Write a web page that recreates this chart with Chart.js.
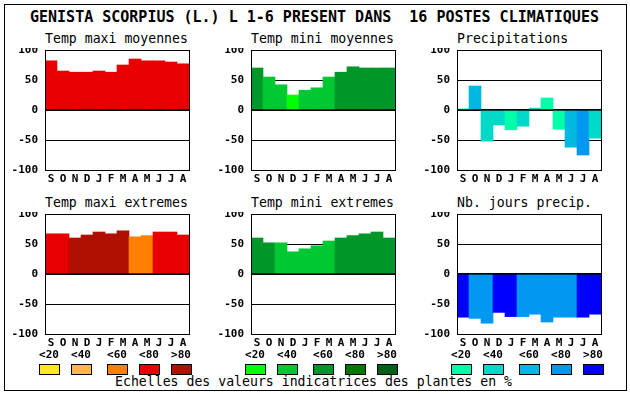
<!DOCTYPE html>
<html>
<head>
<meta charset="utf-8">
<script src="https://cdn.jsdelivr.net/npm/chart.js@4.4.1/dist/chart.umd.min.js"></script>
<style>
  html, body { margin: 0; padding: 0; background: #fff; }
  body { width: 630px; height: 394px; position: relative; overflow: hidden; font-family: "DejaVu Sans Mono", monospace; color: #000; }
  .frame { position: absolute; left: 4px; top: 4px; width: 621px; height: 385px; border: 1px solid #000; }
  .txt { position: absolute; white-space: pre; }
  canvas { position: absolute; }
  .box { position: absolute; width: 19px; height: 9px; border: 1px solid #000; }
</style>
</head>
<body>
<div class="frame"></div>
<script>
// ---------- DATA ----------
const months = ['S','O','N','D','J','F','M','A','M','J','J','A'];
const yTicks = [-100, -50, 0, 50, 100];
const classLabels = ['<20','<40','<60','<80','>80'];

const warmPalette  = ['#ffe820','#ffb848','#ff8000','#e80000','#b01000'];
const greenPalette = ['#00ff00','#00c832','#009628','#007800','#006018'];
const bluePalette  = ['#00ffa8','#00d8c8','#00b8e0','#0098f0','#0000ff'];

const tempMaxiMoy     = [82, 65, 63, 63, 65, 63, 75, 85, 82, 82, 80, 77];
const tempMaxiMoyCls  = [3, 3, 3, 3, 3, 3, 3, 3, 3, 3, 3, 3];

const tempMiniMoy     = [70, 55, 42, 25, 33, 37, 55, 63, 72, 70, 70, 70];
const tempMiniMoyCls  = [2, 1, 1, 0, 1, 1, 1, 2, 2, 2, 2, 2];

const precip          = [2, 40, -52, -25, -33, -27, 3, 20, -32, -62, -75, -47];
const precipCls       = [0, 2, 1, 1, 0, 1, 1, 0, 0, 2, 3, 1];

const tempMaxiExt     = [67, 67, 60, 65, 70, 67, 72, 62, 64, 70, 70, 65];
const tempMaxiExtCls  = [3, 3, 4, 4, 4, 4, 4, 2, 2, 3, 3, 3];

const tempMiniExt     = [60, 52, 52, 37, 42, 47, 55, 60, 64, 67, 70, 60];
const tempMiniExtCls  = [2, 2, 1, 1, 1, 1, 1, 2, 2, 2, 2, 2];

const joursPrecip     = [-72, -74, -82, -64, -71, -71, -67, -80, -72, -72, -72, -67];
const joursPrecipCls  = [4, 3, 3, 4, 4, 3, 3, 3, 3, 3, 4, 4];

const mainTitle = 'GENISTA SCORPIUS (L.) L 1-6 PRESENT DANS  16 POSTES CLIMATIQUES';
const footer = 'Echelles des valeurs indicatrices des plantes en %';

// ---------- LAYOUT ----------
const MONO = '"DejaVu Sans Mono", monospace';
const ASC = 0.846; // baseline offset factor for line-height = font-size

function addText(str, x, baseline, size, weight, align) {
  const d = document.createElement('div');
  d.className = 'txt';
  d.textContent = str;
  d.style.fontSize = size + 'px';
  d.style.lineHeight = size + 'px';
  d.style.fontWeight = weight || 'normal';
  d.style.top = (baseline - ASC * size) + 'px';
  if (align === 'center') {
    d.style.left = (x - 200) + 'px';
    d.style.width = '400px';
    d.style.textAlign = 'center';
  } else {
    d.style.left = x + 'px';
  }
  document.body.appendChild(d);
}

addText(mainTitle, 30, 23, 15, 'bold');
addText(footer, 115, 386.5, 13.2, 'normal');

const panels = [
  { title: 'Temp maxi moyennes', data: tempMaxiMoy, cls: tempMaxiMoyCls, pal: warmPalette,  left: 45,  top: 50 },
  { title: 'Temp mini moyennes', data: tempMiniMoy, cls: tempMiniMoyCls, pal: greenPalette, left: 251, top: 50 },
  { title: 'Precipitations',     data: precip,      cls: precipCls,      pal: bluePalette,  left: 457, top: 50 },
  { title: 'Temp maxi extremes', data: tempMaxiExt, cls: tempMaxiExtCls, pal: warmPalette,  left: 45,  top: 214 },
  { title: 'Temp mini extremes', data: tempMiniExt, cls: tempMiniExtCls, pal: greenPalette, left: 251, top: 214 },
  { title: 'Nb. jours precip.',  data: joursPrecip, cls: joursPrecipCls, pal: bluePalette,  left: 457, top: 214 }
];

const PLOT_W = 144, PLOT_H = 120, YAX_W = 45, XAX_H = 20, PAD = 2;

const framePlugin = {
  id: 'plotFrame',
  afterDraw(chart) {
    const a = chart.chartArea;
    const c = chart.ctx;
    c.save();
    c.strokeStyle = '#000';
    c.lineWidth = 1;
    c.strokeRect(a.left + 0.5, a.top + 0.5, a.right - a.left, a.bottom - a.top);
    c.restore();
  }
};

Chart.defaults.font.family = MONO;
Chart.defaults.font.size = 11;
Chart.defaults.font.weight = 'bold';
Chart.defaults.color = '#000';

function noPad(s) {
  s.paddingTop = 0; s.paddingBottom = 0; s.paddingLeft = 0; s.paddingRight = 0;
}

panels.forEach(p => {
  addText(p.title, p.left, p.top - 7, 13.2, 'normal');
  const cv = document.createElement('canvas');
  const w = YAX_W + PLOT_W + PAD, h = PAD + PLOT_H + XAX_H;
  cv.width = w; cv.height = h;
  cv.style.width = w + 'px'; cv.style.height = h + 'px';
  cv.style.left = (p.left - YAX_W) + 'px';
  cv.style.top = (p.top - PAD) + 'px';
  document.body.appendChild(cv);
  new Chart(cv, {
    type: 'bar',
    data: {
      labels: months,
      datasets: [{
        data: p.data,
        backgroundColor: p.cls.map(k => p.pal[k]),
        borderWidth: 0,
        categoryPercentage: 1,
        barPercentage: 1
      }]
    },
    options: {
      responsive: false,
      animation: false,
      devicePixelRatio: 1,
      layout: { padding: { top: PAD, right: PAD, left: 0, bottom: 0 } },
      plugins: { legend: { display: false }, tooltip: { enabled: false } },
      scales: {
        x: {
          grid: { display: false, drawTicks: false },
          border: { display: false },
          ticks: { padding: 3, maxRotation: 0, autoSkip: false, font: { size: 11, weight: 'bold' } },
          afterFit(s) { s.height = XAX_H; noPad(s); }
        },
        y: {
          min: yTicks[0], max: yTicks[yTicks.length - 1],
          z: 1,
          afterBuildTicks(s) { s.ticks = yTicks.map(v => ({ value: v })); },
          grid: {
            color: '#000',
            drawTicks: false,
            lineWidth: ctx => (ctx.tick && ctx.tick.value === 0) ? 2 : 1
          },
          border: { display: false },
          ticks: { padding: 7, font: { size: 11, weight: 'bold' } },
          afterFit(s) { s.width = YAX_W; noPad(s); }
        }
      }
    },
    plugins: [framePlugin]
  });
});

// ---------- LEGEND (scales of indicator values) ----------
const legendGroups = [
  { pal: warmPalette,  x: [39, 71, 107, 139, 171] },
  { pal: greenPalette, x: [245, 277, 313, 345, 377] },
  { pal: bluePalette,  x: [451, 483, 519, 551, 583] }
];
legendGroups.forEach(g => {
  g.pal.forEach((col, i) => {
    addText(classLabels[i], g.x[i] + 10, 358.5, 11, 'bold', 'center');
    const b = document.createElement('div');
    b.className = 'box';
    b.style.left = g.x[i] + 'px';
    b.style.top = '364px';
    b.style.background = col;
    document.body.appendChild(b);
  });
});
</script>
</body>
</html>
